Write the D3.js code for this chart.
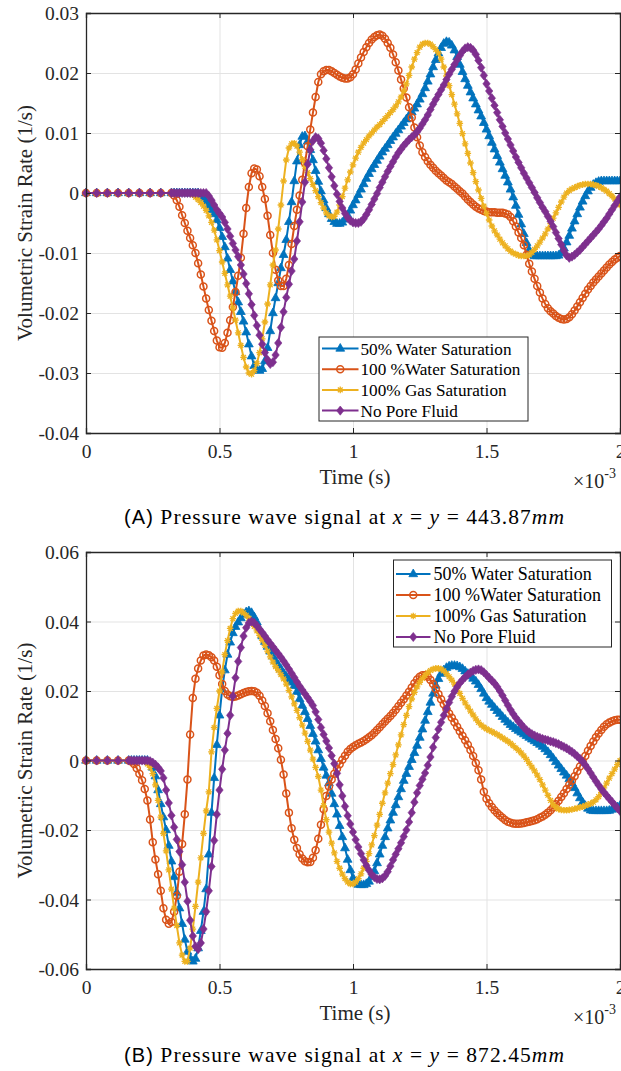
<!DOCTYPE html>
<html>
<head>
<meta charset="utf-8">
<script src="https://cdn.jsdelivr.net/npm/d3@7"></script>
<style>
  body { margin: 0; background: #fff; }
  svg { display: block; }
</style>
</head>
<body>
<svg id="fig" width="621" height="1071"></svg>
<script>
// Sample times in ms (the axis carries the x10^-3 multiplier).
// Coarse spacing while every signal is still at rest, 0.01 ms afterwards.
const timeA = d3.range(0, 32, 4).concat(d3.range(32, 201)).map(i => i / 100);
const timeB = d3.range(0, 16, 4).concat(d3.range(16, 201)).map(i => i / 100);

// Volumetric strain rate, in units of 1e-3 1/s.
// (A) x = y = 443.87 mm
const halfWaterA = [
  0,0,0,0,0,0,0,0,
  0,0,0,0,0,0,0,0,
  0,0,0,-0.3,-0.8,-1.4,-2.1,-2.8,-3.5,-4.5,
  -5.8,-7.3,-9.0,-10.9,-12.8,-14.7,-16.5,-18.2,-19.8,-21.4,
  -23.2,-25.2,-27.2,-28.8,-29.5,-29.6,-29.3,-28.0,-25.8,-23.0,
  -20.0,-17.5,-15.0,-12.5,-10.3,-7.8,-4.8,-1.5,2.0,5.3,
  8.0,9.4,9.5,8.6,7.2,5.5,3.7,1.9,0.3,-1.2,
  -2.5,-3.5,-4.3,-4.8,-5.1,-5.1,-4.9,-4.4,-3.7,-2.9,
  -2.0,-1.2,-0.3,0.6,1.5,2.4,3.2,4.0,4.7,5.4,
  6.1,6.8,7.4,8.0,8.7,9.3,9.9,10.5,11.1,11.7,
  12.3,12.9,13.5,14.1,14.8,15.6,16.5,17.5,18.6,19.8,
  21.0,22.2,23.3,24.2,24.9,25.2,25.1,24.6,23.8,22.7,
  21.4,20.2,19.0,17.9,16.8,15.8,14.8,13.8,12.8,11.7,
  10.6,9.5,8.4,7.3,6.2,5.1,4.0,2.9,1.8,0.6,
  -0.7,-2.1,-3.6,-5.2,-6.8,-8.3,-9.5,-10.3,-10.5,-10.5,
  -10.5,-10.5,-10.5,-10.5,-10.5,-10.5,-10.5,-10.4,-10.0,-9.2,
  -8.2,-7.1,-5.9,-4.7,-3.5,-2.4,-1.4,-0.5,0.3,0.9,
  1.4,1.7,1.9,2.0,2.0,2.0,2.0,2.0,2.0,2.0,
  2.0
];
const fullWaterA = [
  0,0,0,0,0,0,0,0,
  0,-0.4,-1.2,-2.3,-3.7,-5.0,-6.3,-7.5,
  -8.7,-10.0,-11.7,-13.6,-15.6,-17.6,-19.5,-21.3,-23.0,-24.6,
  -25.7,-25.8,-25.0,-23.3,-21.2,-19.0,-16.5,-13.8,-10.8,-6.8,
  -2.5,1.0,3.3,4.1,3.9,2.8,1.0,-1.0,-3.8,-7.0,
  -10.0,-12.8,-14.6,-15.5,-15.5,-14.3,-12.0,-8.5,-5.5,-2.8,
  -0.4,2.2,5.0,7.8,10.6,13.4,16.0,18.5,19.8,20.3,
  20.5,20.5,20.3,20.0,19.7,19.4,19.2,19.1,19.1,19.3,
  19.8,20.6,21.6,22.6,23.5,24.3,25.0,25.6,26.0,26.3,
  26.4,26.2,25.7,25.0,24.2,23.1,21.8,20.4,18.9,17.4,
  15.9,14.3,12.6,10.9,9.3,7.9,6.8,6.0,5.3,4.7,
  4.2,3.7,3.3,2.9,2.5,2.1,1.8,1.5,1.1,0.7,
  0.3,-0.1,-0.6,-1.1,-1.5,-1.9,-2.3,-2.6,-2.8,-3.0,
  -3.1,-3.2,-3.2,-3.2,-3.3,-3.3,-3.3,-3.4,-3.6,-4.0,
  -4.7,-5.6,-6.6,-7.5,-8.7,-10.3,-11.8,-13.1,-14.3,-15.5,
  -16.6,-17.6,-18.5,-19.2,-19.7,-20.1,-20.5,-20.8,-21.0,-21.1,
  -21.0,-20.7,-20.2,-19.6,-18.9,-18.2,-17.5,-16.8,-16.1,-15.5,
  -14.9,-14.4,-13.9,-13.4,-12.9,-12.4,-11.9,-11.5,-11.1,-10.8,
  -10.5
];
const fullGasA = [
  0,0,0,0,0,0,0,0,
  0,0,0,0,0,0,0,0,
  -0.3,-0.7,-1.1,-1.6,-2.2,-2.9,-3.8,-4.9,-6.2,-7.8,
  -9.6,-11.5,-13.4,-15.3,-17.2,-19.2,-21.2,-23.3,-25.4,-27.4,
  -29.0,-30.0,-30.2,-29.6,-28.4,-26.6,-24.3,-21.5,-18.5,-15.3,
  -12.0,-9.5,-6.0,-2.0,2.0,5.5,7.5,8.2,8.3,7.8,
  6.8,5.6,4.4,3.4,2.4,1.4,0.4,-0.6,-1.6,-2.5,
  -3.3,-3.8,-4.0,-3.9,-3.2,-2.0,-0.6,0.8,2.2,3.5,
  4.7,5.8,6.8,7.6,8.3,8.9,9.5,10.0,10.5,11.0,
  11.4,11.9,12.4,12.9,13.4,13.9,14.5,15.2,16.0,17.0,
  18.2,19.6,21.0,22.3,23.4,24.3,24.8,25.0,25.0,24.8,
  24.4,23.9,23.3,22.3,21.0,19.5,17.9,16.4,14.8,13.2,
  11.6,9.9,8.2,6.6,5.0,3.4,1.9,0.5,-0.9,-2.2,
  -3.4,-4.5,-5.5,-6.3,-7.0,-7.7,-8.3,-8.8,-9.3,-9.7,
  -10.0,-10.2,-10.4,-10.5,-10.5,-10.5,-10.3,-9.9,-9.4,-8.8,
  -8.2,-7.5,-6.8,-6.0,-5.1,-4.2,-3.3,-2.4,-1.5,-0.7,
  0.0,0.4,0.7,0.9,1.1,1.3,1.4,1.5,1.5,1.5,
  1.4,1.3,1.1,0.9,0.6,0.3,-0.1,-0.5,-1.0,-1.5,
  -2.0
];
const dryA = [
  0,0,0,0,0,0,0,0,
  0,0,0,0,0,0,0,0,
  0,0,0,0,0,0,-0.5,-1.2,-2.0,-2.8,
  -3.4,-4.0,-4.9,-6.0,-7.2,-8.4,-9.5,-10.6,-12.0,-13.5,
  -15.1,-16.8,-18.6,-20.4,-22.1,-23.7,-25.2,-26.6,-27.8,-28.5,
  -28.2,-27.0,-25.0,-22.4,-19.8,-17.4,-15.2,-13.0,-11.0,-8.0,
  -4.8,-1.5,1.8,4.8,7.2,8.7,9.3,9.1,8.3,7.1,
  5.7,4.2,2.7,1.2,-0.2,-1.4,-2.5,-3.4,-4.1,-4.6,
  -4.9,-5.0,-5.0,-4.8,-4.3,-3.6,-2.8,-1.9,-1.0,-0.1,
  0.9,1.8,2.7,3.6,4.4,5.2,6.0,6.7,7.3,7.9,
  8.4,8.9,9.3,9.7,10.2,10.8,11.5,12.2,13.0,13.9,
  14.8,15.6,16.4,17.2,18.0,18.9,19.8,20.6,21.4,22.2,
  22.9,23.6,24.1,24.3,24.2,23.8,23.1,22.1,20.9,19.6,
  18.2,17.0,15.8,14.6,13.4,12.2,11.1,10.0,9.0,8.0,
  7.0,6.0,5.1,4.2,3.3,2.5,1.7,0.9,0.1,-0.8,
  -1.6,-2.4,-3.1,-3.9,-4.7,-5.6,-6.6,-7.6,-8.6,-9.6,
  -10.4,-10.8,-10.6,-10.3,-9.9,-9.5,-9.0,-8.5,-8.0,-7.5,
  -7.0,-6.5,-6.0,-5.4,-4.8,-4.2,-3.5,-2.8,-2.1,-1.4,
  -0.7
];

// (B) x = y = 872.45 mm
const halfWaterB = [
  0,0,0,0,
  0,0,0,0,
  0,0,0,0,-0.6,-2.0,-4.5,-8.5,-12.5,-16.3,
  -20.0,-24.5,-29.0,-33.5,-38.0,-42.5,-47.0,-51.5,-55.0,-57.0,
  -57.8,-57.0,-54.0,-49.0,-43.5,-37.0,-27.0,-15.0,-5.0,4.5,
  13.0,20.5,26.0,30.5,34.0,36.7,38.5,39.8,41.0,42.0,
  42.7,43.0,42.5,41.3,39.8,37.8,35.8,34.2,32.8,31.4,
  30.0,28.7,27.5,26.3,25.2,24.2,23.3,22.5,21.5,19.8,
  17.7,15.8,14.0,12.0,10.0,7.7,5.5,3.0,0.5,-2.0,
  -4.3,-6.5,-9.5,-12.5,-15.5,-18.8,-22.0,-25.2,-28.5,-31.5,
  -33.8,-35.2,-35.7,-35.8,-35.8,-35.5,-34.8,-33.5,-31.8,-29.5,
  -27.0,-24.5,-22.0,-19.5,-17.2,-15.0,-12.8,-10.5,-8.2,-5.8,
  -3.8,-1.8,0.2,2.2,4.3,6.6,9.0,11.5,14.0,16.7,
  19.3,21.6,23.5,25.0,26.0,26.7,27.1,27.3,27.3,27.2,
  26.9,26.4,25.7,25.0,24.3,23.6,22.8,21.8,20.6,19.3,
  18.0,17.0,16.1,15.2,14.3,13.5,12.6,11.8,11.0,10.3,
  9.7,9.1,8.6,8.1,7.6,7.1,6.6,6.1,5.6,5.1,
  4.6,4.0,3.3,2.5,1.6,0.6,-0.4,-1.4,-2.4,-3.4,
  -4.3,-5.3,-6.5,-7.9,-9.4,-10.8,-12.0,-13.0,-13.8,-14.3,
  -14.5,-14.5,-14.5,-14.5,-14.5,-14.5,-14.4,-14.1,-13.8,-13.4,
  -13.0
];
const fullWaterB = [
  0,0,0,0,
  0,-0.3,-1.0,-2.2,
  -3.8,-5.7,-8.2,-11.5,-17.0,-23.5,-28.5,-32.7,-37.5,-42.5,
  -45.8,-47.0,-46.5,-43.5,-39.0,-32.0,-24.0,-15.5,-5.5,7.5,
  18.0,23.5,26.5,28.8,30.2,30.5,30.3,29.7,28.8,27.0,
  24.5,22.0,20.0,19.0,18.5,18.3,18.4,18.7,19.1,19.4,
  19.7,19.9,20.0,19.9,19.5,18.6,17.3,15.7,13.6,11.3,
  8.8,6.2,3.5,0.2,-4.0,-9.5,-15.0,-19.5,-22.8,-25.2,
  -27.0,-28.2,-29.0,-29.3,-29.2,-28.0,-25.8,-22.5,-18.5,-14.0,
  -10.2,-7.5,-5.5,-3.8,-2.4,-1.1,0.2,1.4,2.5,3.3,
  3.9,4.4,4.8,5.2,5.6,6.1,6.7,7.3,8.0,8.8,
  9.6,10.4,11.2,12.0,12.8,13.7,14.6,15.6,16.6,17.6,
  18.7,19.8,21.0,22.2,23.3,24.1,24.5,24.5,24.1,23.2,
  22.0,20.6,19.1,17.6,16.2,14.8,13.5,12.3,11.0,9.7,
  8.4,7.1,5.8,4.5,3.0,1.3,-0.7,-2.8,-5.5,-9.0,
  -11.0,-12.3,-13.4,-14.3,-15.1,-15.8,-16.5,-17.1,-17.6,-17.9,
  -18.1,-18.2,-18.2,-18.1,-18.0,-17.8,-17.6,-17.4,-17.2,-16.9,
  -16.5,-16.1,-15.6,-15.0,-14.3,-13.5,-12.6,-11.6,-10.5,-9.4,
  -8.2,-7.0,-5.8,-4.5,-3.1,-1.7,-0.2,1.3,2.8,4.2,
  5.5,6.7,7.8,8.8,9.7,10.4,10.9,11.3,11.6,11.7,
  11.7
];
const fullGasB = [
  0,0,0,0,
  0,0,0,0,
  0,0,-0.3,-1.0,-2.0,-3.8,-7.0,-11.5,-16.3,-21.0,
  -26.0,-31.5,-37.0,-42.5,-47.5,-52.5,-56.0,-57.8,-57.8,-54.0,
  -48.5,-42.0,-35.0,-28.0,-21.0,-14.5,-9.0,2.5,9.5,15.0,
  20.0,25.5,30.5,34.5,38.0,40.8,42.3,43.0,43.0,42.5,
  41.8,40.9,39.8,38.6,37.3,36.0,34.6,33.1,31.5,29.8,
  28.3,27.0,25.9,24.7,23.5,22.0,20.2,18.3,16.3,14.4,
  12.3,10.2,7.9,5.5,3.0,0.4,-2.0,-4.6,-8.5,-13.0,
  -17.0,-20.6,-23.8,-26.6,-29.0,-31.0,-32.7,-34.0,-35.0,-35.5,
  -35.5,-35.0,-34.0,-32.6,-31.0,-29.0,-26.8,-24.3,-21.6,-18.6,
  -15.5,-12.3,-9.3,-6.5,-3.8,-1.2,1.6,4.5,7.4,10.3,
  13.0,15.5,17.7,19.6,21.2,22.5,23.6,24.5,25.3,25.9,
  26.3,26.5,26.5,26.3,25.8,25.0,24.1,23.1,22.0,20.7,
  19.3,17.9,16.6,15.4,14.2,13.1,12.0,11.0,10.2,9.6,
  9.1,8.7,8.3,7.9,7.5,7.0,6.5,6.0,5.5,4.9,
  4.3,3.6,2.9,2.2,1.3,0.3,-0.8,-1.9,-3.0,-4.2,
  -5.5,-7.0,-8.5,-10.0,-11.5,-12.7,-13.5,-14.0,-14.2,-14.3,
  -14.3,-14.2,-14.1,-13.9,-13.7,-13.5,-13.3,-13.0,-12.7,-12.4,
  -12.0,-11.3,-10.4,-9.2,-7.9,-6.5,-5.1,-3.8,-2.5,-1.2,
  0.0
];
const dryB = [
  0,0,0,0,
  0,0,0,0,
  0,0,0,0,-0.2,-0.6,-1.2,-2.0,-3.0,-5.0,
  -8.5,-12.2,-15.8,-19.2,-22.7,-26.2,-30.0,-35.0,-40.5,-46.0,
  -50.5,-53.5,-54.3,-52.5,-48.5,-43.5,-37.5,-30.5,-23.0,-15.5,
  -8.5,-2.5,3.0,7.8,13.0,18.5,23.8,28.5,32.5,35.8,
  38.2,39.6,40.0,39.6,38.8,37.8,36.8,35.8,34.7,33.7,
  32.7,31.7,30.7,29.7,28.6,27.5,26.3,25.1,23.9,22.6,
  21.4,20.3,19.2,18.1,17.0,15.8,14.0,11.8,9.5,7.5,
  5.6,3.6,1.4,-0.9,-3.7,-7.0,-10.2,-13.2,-15.9,-18.3,
  -20.6,-22.8,-24.9,-26.8,-28.6,-30.2,-31.6,-32.8,-33.6,-34.1,
  -34.2,-33.9,-33.2,-32.0,-30.4,-28.6,-27.0,-25.4,-23.7,-21.9,
  -20.0,-17.7,-15.0,-12.0,-9.3,-7.2,-5.4,-3.6,-1.4,1.0,
  3.8,6.6,9.0,11.0,13.0,14.9,16.7,18.4,19.9,21.2,
  22.3,23.2,24.0,24.7,25.3,25.8,26.1,26.2,26.0,25.4,
  24.6,23.8,23.0,22.2,21.2,20.0,18.7,17.3,15.9,14.6,
  13.4,12.3,11.3,10.4,9.5,8.7,8.1,7.6,7.2,6.8,
  6.5,6.2,6.0,5.8,5.5,5.3,5.0,4.7,4.3,3.9,
  3.5,3.0,2.5,1.9,1.2,0.5,-0.3,-1.3,-2.4,-3.6,
  -4.8,-6.0,-7.1,-8.2,-9.2,-10.1,-11.0,-11.9,-12.8,-13.7,
  -14.5
];

const seriesNames = ["50% Water Saturation", "100 %Water Saturation", "100% Gas Saturation", "No Pore Fluid"];
const seriesColors = ["#0072BD", "#D95319", "#EDB120", "#7E2F8E"];
const seriesMarkers = ["triangle", "circle", "asterisk", "diamond"];

const xTicks = [0, 0.5, 1, 1.5, 2];
const xTickLabels = ["0", "0.5", "1", "1.5", "2"];
const yTicksA = [-0.04, -0.03, -0.02, -0.01, 0, 0.01, 0.02, 0.03];
const yTickLabelsA = ["-0.04", "-0.03", "-0.02", "-0.01", "0", "0.01", "0.02", "0.03"];
const yTicksB = [-0.06, -0.04, -0.02, 0, 0.02, 0.04, 0.06];
const yTickLabelsB = ["-0.06", "-0.04", "-0.02", "0", "0.02", "0.04", "0.06"];

const STRAIN_UNIT = 1e-3;

const panels = [
  {
    top: 13, bottom: 433, yDomain: [-0.04, 0.03], yTicks: yTicksA, yLabels: yTickLabelsA,
    time: timeA, series: [halfWaterA, fullWaterA, fullGasA, dryA],
    legend: { x: 319, y: 337, w: 209, h: 84, font: 17.2, row0: 11.5, dy: 20.7, lx0: 3, lx1: 39.5, tx: 41.5 },
    tag: "(A)", where: "443.87",
    captionY: 524
  },
  {
    top: 552, bottom: 969, yDomain: [-0.06, 0.06], yTicks: yTicksB, yLabels: yTickLabelsB,
    time: timeB, series: [halfWaterB, fullWaterB, fullGasB, dryB],
    legend: { x: 393.5, y: 560, w: 218, h: 87, font: 18, row0: 14, dy: 21, lx0: 2.5, lx1: 37, tx: 40 },
    tag: "(B)", where: "872.45",
    captionY: 1062
  }
];

const LEFT = 86, RIGHT = 620;
const AXIS_COLOR = "#262626";
const GRID_COLOR = "#e3e3e3";
const SERIF = "Liberation Serif";
const SANS = "Liberation Sans";

const svg = d3.select("#fig");

function drawMarker(g, kind, color, x, y) {
  if (kind === "triangle") {
    g.append("path").attr("d", `M${x},${y - 5}L${x + 4.4},${y + 2.7}L${x - 4.4},${y + 2.7}Z`)
      .attr("fill", color).attr("stroke", color).attr("stroke-width", 0.8);
  } else if (kind === "circle") {
    g.append("circle").attr("cx", x).attr("cy", y).attr("r", 3.5)
      .attr("fill", "none").attr("stroke", color).attr("stroke-width", 1.5);
  } else if (kind === "asterisk") {
    g.append("path")
      .attr("d", `M${x - 3.3},${y}H${x + 3.3}M${x},${y - 3.3}V${y + 3.3}M${x - 2.4},${y - 2.4}L${x + 2.4},${y + 2.4}M${x - 2.4},${y + 2.4}L${x + 2.4},${y - 2.4}`)
      .attr("fill", "none").attr("stroke", color).attr("stroke-width", 1.3);
  } else {
    g.append("path").attr("d", `M${x},${y - 4.6}L${x + 3.7},${y}L${x},${y + 4.6}L${x - 3.7},${y}Z`)
      .attr("fill", color).attr("stroke", color).attr("stroke-width", 0.6);
  }
}

panels.forEach((p, pi) => {
  const x = d3.scaleLinear().domain([0, 2]).range([LEFT, RIGHT]);
  const y = d3.scaleLinear().domain(p.yDomain).range([p.bottom, p.top]);
  const h = p.bottom - p.top, w = RIGHT - LEFT;
  const root = svg.append("g");

  // plot background
  root.append("rect").attr("x", LEFT).attr("y", p.top).attr("width", w).attr("height", h).attr("fill", "#fff");

  // grid
  root.append("g").attr("transform", `translate(0,${p.bottom})`)
    .call(d3.axisBottom(x).tickValues(xTicks.slice(1, -1)).tickSize(-h).tickFormat(""))
    .call(g => g.select(".domain").remove())
    .call(g => g.selectAll("line").attr("stroke", GRID_COLOR).attr("stroke-width", 1));
  root.append("g").attr("transform", `translate(${LEFT},0)`)
    .call(d3.axisLeft(y).tickValues(p.yTicks.slice(1, -1)).tickSize(-w).tickFormat(""))
    .call(g => g.select(".domain").remove())
    .call(g => g.selectAll("line").attr("stroke", GRID_COLOR).attr("stroke-width", 1));

  // series: line then markers, in plotting order
  const clipId = "clip" + pi;
  root.append("clipPath").attr("id", clipId)
    .append("rect").attr("x", LEFT).attr("y", p.top).attr("width", w).attr("height", h);
  p.series.forEach((vals, si) => {
    const pts = vals.map((v, i) => [p.time[i], v * STRAIN_UNIT]);
    const g = root.append("g");
    g.append("path")
      .attr("clip-path", `url(#${clipId})`)
      .attr("d", d3.line().x(d => x(d[0])).y(d => y(d[1]))(pts))
      .attr("fill", "none").attr("stroke", seriesColors[si]).attr("stroke-width", 2)
      .attr("stroke-linejoin", "round");
    const mg = g.append("g");
    pts.forEach(d => drawMarker(mg, seriesMarkers[si], seriesColors[si], x(d[0]), y(d[1])));
  });

  // axes: inward ticks on all four sides
  const tick = 5;
  const bottomAxis = root.append("g").attr("transform", `translate(0,${p.bottom})`)
    .call(d3.axisBottom(x).tickValues(xTicks).tickSize(-tick).tickPadding(0)
      .tickFormat((d, i) => xTickLabels[i]));
  bottomAxis.selectAll("text").attr("y", 25).attr("dy", null);
  root.append("g").attr("transform", `translate(0,${p.top})`)
    .call(d3.axisTop(x).tickValues(xTicks).tickSize(-tick).tickFormat(""));
  const leftAxis = root.append("g").attr("transform", `translate(${LEFT},0)`)
    .call(d3.axisLeft(y).tickValues(p.yTicks).tickSize(-tick).tickPadding(0)
      .tickFormat((d, i) => p.yLabels[i]));
  leftAxis.selectAll("text").attr("x", -7).attr("dy", "0.34em");
  root.append("g").attr("transform", `translate(${RIGHT},0)`)
    .call(d3.axisRight(y).tickValues(p.yTicks).tickSize(-tick).tickFormat(""));

  root.selectAll(".domain").attr("stroke", AXIS_COLOR).attr("stroke-width", 1.3);
  root.selectAll(".tick line").filter(function () { return this.getAttribute("stroke") !== GRID_COLOR; })
    .attr("stroke", AXIS_COLOR).attr("stroke-width", 1);
  [bottomAxis, leftAxis].forEach(a => a.attr("font-family", SERIF).attr("font-size", 19.5)
    .selectAll("text").attr("fill", "#262626"));

  // axis titles
  root.append("text").attr("x", (LEFT + RIGHT) / 2 + 2).attr("y", p.bottom + 51)
    .attr("text-anchor", "middle").attr("font-family", SERIF).attr("font-size", 21)
    .attr("fill", "#262626").text("Time (s)");
  const mult = root.append("text").attr("x", 573).attr("y", p.bottom + 55)
    .attr("font-family", SERIF).attr("font-size", 20).attr("fill", "#262626");
  mult.append("tspan").text("\u00d710");
  mult.append("tspan").attr("dy", -10).attr("font-size", 14).text("-3");
  root.append("text")
    .attr("transform", `translate(32,${(p.top + p.bottom) / 2}) rotate(-90)`)
    .attr("text-anchor", "middle").attr("font-family", SERIF).attr("font-size", 21)
    .attr("fill", "#262626").text("Volumetric Strain Rate (1/s)");

  // legend
  const L = p.legend;
  const lg = root.append("g");
  lg.append("rect").attr("x", L.x).attr("y", L.y).attr("width", L.w).attr("height", L.h)
    .attr("fill", "#fff").attr("stroke", AXIS_COLOR).attr("stroke-width", 1);
  seriesNames.forEach((name, si) => {
    const ry = L.y + L.row0 + si * L.dy;
    lg.append("line").attr("x1", L.x + L.lx0).attr("x2", L.x + L.lx1).attr("y1", ry).attr("y2", ry)
      .attr("stroke", seriesColors[si]).attr("stroke-width", 2);
    drawMarker(lg, seriesMarkers[si], seriesColors[si], L.x + (L.lx0 + L.lx1) / 2, ry);
    lg.append("text").attr("x", L.x + L.tx).attr("y", ry).attr("dy", "0.35em")
      .attr("font-family", SERIF).attr("font-size", L.font).attr("fill", "#000").text(name);
  });

  // caption
  const cap = svg.append("text").attr("x", 124).attr("y", p.captionY)
    .attr("font-family", SERIF).attr("font-size", 21.5).attr("fill", "#000")
    .attr("textLength", 440).attr("lengthAdjust", "spacing");
  cap.append("tspan").attr("font-family", SANS).attr("font-size", 20).text(p.tag);
  cap.append("tspan").text(" Pressure wave signal at ");
  cap.append("tspan").attr("font-style", "italic").text("x");
  cap.append("tspan").text(" = ");
  cap.append("tspan").attr("font-style", "italic").text("y");
  cap.append("tspan").text(" = " + p.where);
  cap.append("tspan").attr("font-style", "italic").text("mm");
});
</script>
</body>
</html>
